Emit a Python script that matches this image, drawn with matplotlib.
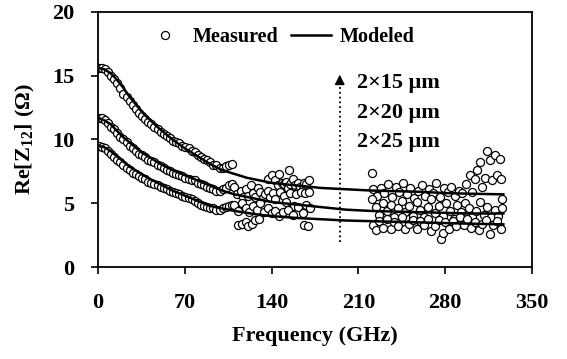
import matplotlib
matplotlib.use('Agg')
from matplotlib import pyplot as plt
from matplotlib.lines import Line2D

plt.rcParams['font.family'] = ['Liberation Serif', 'DejaVu Serif']
plt.rcParams['font.weight'] = 'bold'
plt.rcParams['mathtext.fontset'] = 'custom'
plt.rcParams['mathtext.rm'] = 'Liberation Serif:bold'
plt.rcParams['mathtext.it'] = 'Liberation Serif:bold'
plt.rcParams['mathtext.bf'] = 'Liberation Serif:bold'

# modeled curves (GHz, Ohm)
f_model = [0, 5, 10, 15, 20, 25, 30, 35, 40, 50, 60, 70, 80, 90, 100, 110, 120, 130,
           140, 160, 180, 200, 220, 240, 260, 280, 300, 327]
model_15 = [15.6, 15.5, 15.2, 14.7, 14.1, 13.4, 12.8, 12.2, 11.7, 10.8, 10.0, 9.3, 8.7, 8.1,
            7.6, 7.3, 7.0, 6.8, 6.6, 6.4, 6.2, 6.1, 6.0, 5.95, 5.9, 5.8, 5.75, 5.7]
model_20 = [11.7, 11.5, 11.2, 10.7, 10.2, 9.8, 9.4, 9.0, 8.7, 8.1, 7.6, 7.2, 6.8, 6.4,
            6.0, 5.7, 5.5, 5.3, 5.1, 4.9, 4.7, 4.5, 4.4, 4.35, 4.3, 4.25, 4.2, 4.2]
model_25 = [9.5, 9.4, 9.1, 8.7, 8.3, 7.9, 7.6, 7.3, 7.0, 6.5, 6.0, 5.6, 5.2, 4.8,
            4.6, 4.4, 4.25, 4.1, 4.0, 3.85, 3.75, 3.65, 3.6, 3.55, 3.5, 3.45, 3.4, 3.35]

# measured, smooth low-frequency part
f_low = [1, 3, 5.5, 8, 10.5, 13, 15.5, 18, 20.5, 23, 25.5, 28, 30.5, 33, 35.5, 38, 40.5,
         43, 45.5, 48, 50.5, 53, 55.5, 58, 60.5, 63, 65.5, 68, 70.5, 73, 75.5, 78, 80.5,
         83, 85.5, 88, 90.5, 93, 95.5, 98, 100.5, 103, 105.5, 108]
low_15 = [15.6, 15.6, 15.5, 15.3, 15.0, 14.7, 14.4, 14.0, 13.6, 13.3, 13.0, 12.7, 12.4,
          12.1, 11.8, 11.6, 11.4, 11.2, 11.0, 10.8, 10.6, 10.4, 10.3, 10.1, 9.9, 9.8, 9.7,
          9.5, 9.4, 9.3, 9.1, 9.0, 8.8, 8.6, 8.5, 8.4, 8.2, 8.0, 8.0, 7.8, 7.8, 7.9, 8.0, 8.1]
low_20 = [11.7, 11.7, 11.5, 11.3, 11.0, 10.8, 10.5, 10.2, 10.0, 9.8, 9.5, 9.3, 9.1, 8.9,
          8.8, 8.6, 8.4, 8.3, 8.2, 8.0, 7.9, 7.8, 7.6, 7.5, 7.4, 7.3, 7.2, 7.1, 7.0, 6.9,
          6.8, 6.8, 6.6, 6.5, 6.4, 6.3, 6.2, 6.1, 6.0, 6.0, 6.1, 6.2, 6.4, 6.5]
low_25 = [9.5, 9.4, 9.3, 9.1, 8.9, 8.6, 8.4, 8.2, 8.0, 7.8, 7.6, 7.4, 7.3, 7.1, 7.0, 6.9,
          6.7, 6.6, 6.5, 6.4, 6.3, 6.2, 6.1, 6.0, 5.9, 5.8, 5.7, 5.6, 5.5, 5.4, 5.3, 5.2,
          5.0, 4.9, 4.8, 4.7, 4.6, 4.6, 4.5, 4.5, 4.6, 4.7, 4.8, 4.9]

# measured, noisy 110-170 GHz band
f_mid_15 = [137, 140, 143, 145, 146, 148, 150, 152, 153, 154, 155, 157, 159, 161, 161, 163,
            165, 166, 168, 169, 170]
mid_15 = [6.9, 7.2, 6.8, 6.4, 7.3, 6.6, 6.5, 6.7, 6.2, 7.6, 6.5, 6.9, 6.4, 6.6, 6.0, 6.3,
          6.1, 6.6, 6.5, 6.0, 6.8]
f_mid_20 = [110, 112, 115, 117, 119, 121, 123, 125, 127, 129, 131, 133, 135, 137, 139,
            141, 143, 147, 150, 152, 155, 158, 160, 164, 167, 170]
mid_20 = [6.3, 5.7, 6.0, 5.5, 6.1, 5.6, 6.4, 5.8, 5.5, 6.2, 5.9, 5.4, 5.7, 6.0, 5.5,
          5.8, 5.3, 5.9, 5.6, 5.1, 5.8, 4.8, 5.7, 5.9, 5.8, 5.9]
f_mid_25 = [110, 113, 113, 116, 116, 119, 119, 121, 122, 124, 125, 127, 128, 130, 131,
            134, 137, 140, 143, 146, 149, 153, 157, 161, 165, 166, 168, 169, 171]
mid_25 = [4.9, 4.4, 3.3, 5.0, 3.4, 4.6, 3.5, 3.2, 4.3, 3.4, 4.8, 3.7, 4.5, 3.8, 5.0,
          4.3, 4.6, 4.2, 4.4, 4.0, 4.3, 4.5, 4.1, 4.7, 4.2, 3.3, 4.9, 3.2, 4.6]

# measured, noisy 220-327 GHz band
f_high_15 = [221, 222, 225, 228, 231, 234, 237, 240, 243, 246, 249, 252, 255, 258, 261,
             264, 267, 270, 273, 276, 279, 282, 285, 288, 291, 294, 297, 300, 302, 304,
             306, 308, 310, 312, 314, 316, 318, 320, 322, 324, 325, 326]
high_15 = [7.4, 6.1, 5.6, 6.2, 5.8, 6.5, 5.5, 6.3, 5.9, 6.6, 5.7, 6.2, 5.4, 6.0, 6.4,
           5.6, 6.1, 5.8, 6.6, 5.5, 6.2, 5.9, 6.3, 5.6, 6.0, 5.8, 6.5, 7.2, 5.9, 6.9,
           7.6, 8.2, 6.3, 7.0, 9.1, 8.4, 6.8, 8.8, 7.2, 8.5, 6.9, 5.3]
f_high_20 = [221, 224, 227, 230, 233, 236, 239, 242, 245, 248, 251, 254, 257, 260, 263,
             266, 269, 272, 275, 278, 281, 284, 287, 290, 293, 296, 299, 302, 305, 308,
             311, 314, 317, 320, 323, 326]
high_20 = [5.3, 4.7, 4.1, 5.0, 4.4, 4.9, 3.9, 4.6, 5.2, 4.3, 4.8, 4.0, 5.1, 4.5, 3.9,
           4.7, 5.3, 4.2, 4.8, 4.0, 5.0, 4.4, 3.8, 4.9, 4.3, 5.0, 4.6, 3.9, 4.4, 5.1,
           4.1, 4.7, 3.9, 4.5, 4.0, 4.6]
f_high_25 = [222, 224, 227, 230, 233, 236, 239, 242, 245, 248, 251, 254, 257, 260, 263,
             266, 269, 272, 275, 277, 278, 280, 283, 286, 289, 292, 295, 298, 301, 304,
             307, 310, 313, 316, 319, 322, 325]
high_25 = [3.3, 2.9, 3.6, 3.1, 3.8, 3.0, 3.5, 3.2, 3.9, 3.0, 3.4, 3.7, 3.0, 3.6, 3.3,
           3.8, 2.8, 3.2, 3.7, 2.2, 2.7, 3.5, 3.0, 3.6, 3.2, 3.9, 3.3, 3.8, 3.1, 3.5,
           2.9, 3.4, 3.7, 2.6, 3.3, 3.6, 3.0]

widths = ['2\u00d715 \u03bcm', '2\u00d720 \u03bcm', '2\u00d725 \u03bcm']

fig = plt.figure(figsize=(5.67, 3.59), dpi=100)
ax = fig.add_axes([0.173, 0.256, 0.765, 0.711])

mk = dict(linestyle='none', marker='o', markersize=5.8, markerfacecolor='white',
          markeredgecolor='black', markeredgewidth=0.9)
for f, v in [(f_low, low_15), (f_low, low_20), (f_low, low_25),
             (f_mid_15, mid_15), (f_mid_20, mid_20), (f_mid_25, mid_25),
             (f_high_15, high_15), (f_high_20, high_20), (f_high_25, high_25)]:
    ax.plot(f, v, **mk)

for m in [model_15, model_20, model_25]:
    ax.plot(f_model, m, color='black', linewidth=1.8)

# dotted arrow showing width increase
ax.plot([195, 195], [2.0, 14.4], color='black', linestyle=':', linewidth=1.3)
ax.annotate('', xy=(195, 15.3), xytext=(195, 14.2),
            arrowprops=dict(arrowstyle='-|>', color='black', lw=1.0, mutation_scale=15))
for i, w in enumerate(widths):
    ax.text(209, 14.4 - 2.3 * i, w, fontsize=16, fontweight='bold', va='center', ha='left')

ax.set_xlim(0, 350)
ax.set_ylim(0, 20)
ax.set_xticks([0, 70, 140, 210, 280, 350])
ax.set_yticks([0, 5, 10, 15, 20])
ax.tick_params(axis='both', direction='out', length=5, width=1.2, labelsize=16)
ax.tick_params(axis='x', pad=14)
ax.tick_params(axis='y', pad=12)
for s in ax.spines.values():
    s.set_linewidth(1.3)

ax.set_xlabel('Frequency (GHz)', fontsize=16, fontweight='bold', labelpad=9)
ax.set_ylabel(r'$\mathrm{Re[Z_{12}]\ (\Omega)}$', fontsize=16, labelpad=11)

handles = [Line2D([], [], **mk), Line2D([], [], color='black', linewidth=1.8)]
fig.legend(handles, ['Measured', 'Modeled'], loc='center', bbox_to_anchor=(0.493, 0.897),
           ncol=2, frameon=False, prop={'size': 14.5, 'weight': 'bold'},
           handlelength=2.0, handletextpad=0.4, columnspacing=0.6, borderpad=0)

fig.savefig('out.png', dpi=100)
